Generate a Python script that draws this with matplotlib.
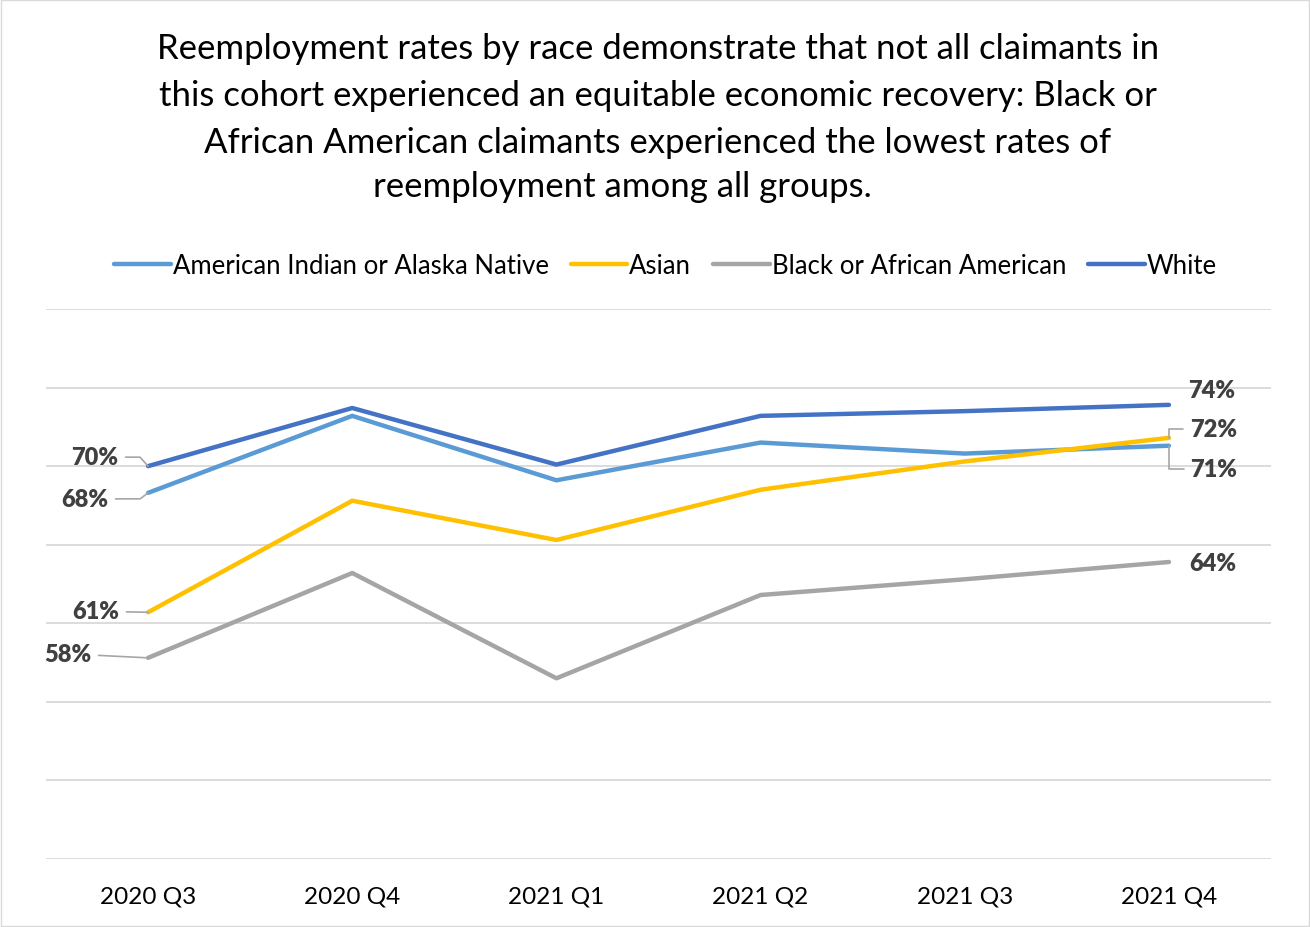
import matplotlib.pyplot as plt
from matplotlib.patches import Rectangle

plt.rcParams['font.family'] = ['Lato', 'DejaVu Sans']

quarters = ['2020 Q3', '2020 Q4', '2021 Q1', '2021 Q2', '2021 Q3', '2021 Q4']
aian = [68.3, 73.2, 69.1, 71.5, 70.8, 71.3]
asian = [60.7, 67.8, 65.3, 68.5, 70.3, 71.8]
black = [57.8, 63.2, 56.5, 61.8, 62.8, 63.9]
white = [70.0, 73.7, 70.1, 73.2, 73.5, 73.9]

series = [
    ('American Indian or Alaska Native', aian, '#5B9BD5'),
    ('Asian', asian, '#FFC000'),
    ('Black or African American', black, '#A5A5A5'),
    ('White', white, '#4472C4'),
]

# first/last point labels: (series, index, text offset px, leader style or None)
labels = [
    (white, 0, (-53, 9), 'angle,angleA=0,angleB=132,rad=0'),
    (aian, 0, (-63, -6), 'angle,angleA=0,angleB=37,rad=0'),
    (asian, 0, (-52, 1), 'arc3,rad=0'),
    (black, 0, (-80, 4), 'arc3,rad=0'),
    (white, 5, (43, 15), None),
    (asian, 5, (45, 9), 'angle,angleA=0,angleB=90,rad=0'),
    (aian, 5, (45, -23), 'angle,angleA=0,angleB=90,rad=0'),
    (black, 5, (44, -1), None),
]

fig = plt.figure(figsize=(13.1, 9.28), dpi=100)
ax = fig.add_axes([46 / 1310, 1 - 860 / 928, 1225 / 1310, 550 / 928])

x = list(range(len(quarters)))
for name, vals, color in series:
    ax.plot(x, vals, color=color, lw=3.2, label=name, solid_capstyle='round')

for vals, i, off, style in labels:
    kw = {}
    if style:
        kw['arrowprops'] = dict(arrowstyle='-', color='#a6a6a6', lw=1.2,
                                shrinkA=3, shrinkB=0, connectionstyle=style)
    ax.annotate(f'{round(vals[i])}%', (i, vals[i]), xytext=off,
                textcoords='offset pixels', ha='center', va='center',
                fontsize=17, fontweight='heavy', color='#404040', **kw)

ax.set_xlim(-0.5, 5.5)
ax.set_ylim(45, 80)
ax.set_yticks(range(45, 81, 5))
ax.set_yticklabels([])
ax.set_xticks(x)
ax.set_xticklabels(quarters, fontsize=17.5, color='#000000')
ax.tick_params(length=0, pad=19)
ax.grid(axis='y', color='#d9d9d9', lw=1.3)
ax.set_axisbelow(True)
for s in ax.spines.values():
    s.set_visible(False)

# title: three wrapped lines plus a last line sitting a bit left of centre
fig.text(0.502, 1 - 96 / 928,
         'Reemployment rates by race demonstrate that not all claimants in\n'
         'this cohort experienced an equitable economic recovery: Black or\n'
         'African American claimants experienced the lowest rates of',
         ha='center', va='center', fontsize=25, linespacing=1.56)
fig.text(622 / 1310, 1 - 187 / 928, 'reemployment among all groups.',
         ha='center', va='center', fontsize=25)

fig.legend(loc='center', bbox_to_anchor=(0.508, 1 - 266 / 928), ncol=4,
           frameon=False, fontsize=18.5, handlelength=2.2, handletextpad=0.08,
           columnspacing=0.85)

fig.patches.append(Rectangle((0.001, 0.001), 0.998, 0.998, transform=fig.transFigure,
                             fill=False, edgecolor='#d9d9d9', lw=1))

fig.savefig('out.png', dpi=100)
